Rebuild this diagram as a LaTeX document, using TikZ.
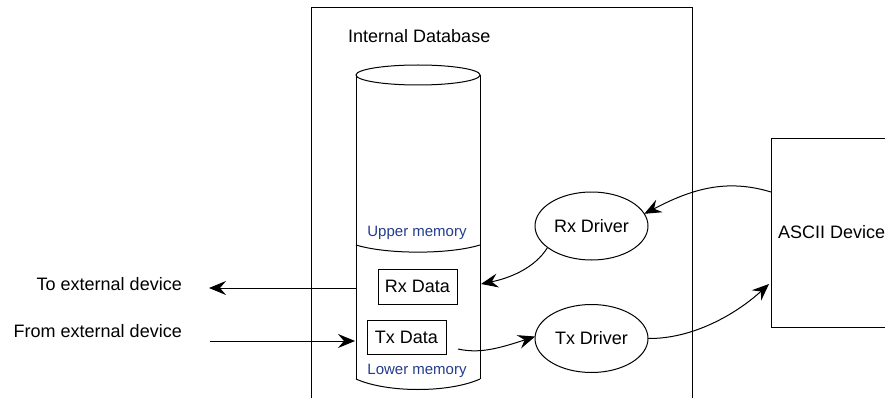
\documentclass[tikz,border=0pt]{standalone}
\usepackage{fontspec}
\setmainfont{Liberation Sans}
\usetikzlibrary{arrows.meta,shapes.geometric}
\definecolor{memblue}{RGB}{35,60,140}
\tikzset{
  ln/.style={line width=1pt, draw=black},
  arr/.style={line width=1pt, draw=black, arrows={-Stealth[length=17pt, width=14pt, inset=6pt]}},
  lbl/.style={inner sep=0pt, font=\fontsize{18}{20}\selectfont},
  memlbl/.style={inner sep=0pt, text=memblue, font=\fontsize{15}{17}\selectfont},
  databox/.style={ln, draw, rectangle, inner sep=0pt, font=\fontsize{18}{20}\selectfont},
  drv/.style={ln, draw, ellipse, inner sep=0pt, outer sep=0pt, minimum width=113pt, minimum height=68pt, font=\fontsize{18}{20}\selectfont},
}
\begin{document}
\begin{tikzpicture}[x=1pt, y=-1pt]
\useasboundingbox (0,0) rectangle (885,398);
\clip (0,0) rectangle (885,398);
% outer database box (open at bottom)
\draw[ln] (311,405) -- (311,8) -- (692,8) -- (692,405);
\node[lbl, anchor=base west] (title) at (348,43) {Internal Database};
% cylinder
\draw[ln] (418,75) ellipse [x radius=62, y radius=10];
\draw[ln] (356,75) -- (356,379);
\draw[ln] (480,75) -- (480,379);
\draw[ln] (356,245) .. controls (387,254.5) and (449,254.5) .. (480,245);
\draw[ln] (356,379) .. controls (387,393) and (449,393) .. (480,379);
\node[memlbl, anchor=base] (upper) at (417,236.5) {Upper memory};
\node[memlbl, anchor=base] (lower) at (417,374) {Lower memory};
% data boxes
\node[databox, minimum width=79pt, minimum height=35pt] (rxdata) at (417.5,286.5) {Rx Data};
\node[databox, minimum width=79pt, minimum height=34pt] (txdata) at (406.5,337) {Tx Data};
% drivers
\node[drv] (rxdrv) at (591.5,226) {Rx Driver};
\node[drv] (txdrv) at (591.5,338.5) {Tx Driver};
% ASCII device
\node[ln, draw, rectangle, inner sep=0pt, outer sep=0pt, minimum width=140pt, minimum height=188pt, anchor=north west] (ascii) at (771,139) {};
\node[lbl, anchor=base west] (asciitxt) at (778,238) {ASCII Device};
% external labels
\node[lbl, anchor=base east] (toext) at (182,290.5) {To external device};
\node[lbl, anchor=base east] (fromext) at (182,337.5) {From external device};
% coordinates
\coordinate (cylLto) at (356,288);
\coordinate (cylLfrom) at (355,341);
\coordinate (extTo) at (209,288);
\coordinate (extFrom) at (210,341);
\coordinate (cylR) at (481,284);
\coordinate (txout) at (458,349);
\coordinate (asciiRx) at (771,192);
\coordinate (asciiTx) at (769,284);
% connectors
\draw[arr] (cylLto) -- (extTo);
\draw[arr] (extFrom) -- (cylLfrom);
\draw[arr] (asciiRx) .. controls (725,178) and (690,190) .. (rxdrv.13);
\draw[arr] (rxdrv.206) .. controls (535,268) and (510,278) .. (cylR);
\draw[arr] (txout) .. controls (480,354) and (500,348) .. (txdrv.178);
\draw[arr] (txdrv.east) .. controls (692,339) and (735,315) .. (asciiTx);
\end{tikzpicture}
\end{document}
